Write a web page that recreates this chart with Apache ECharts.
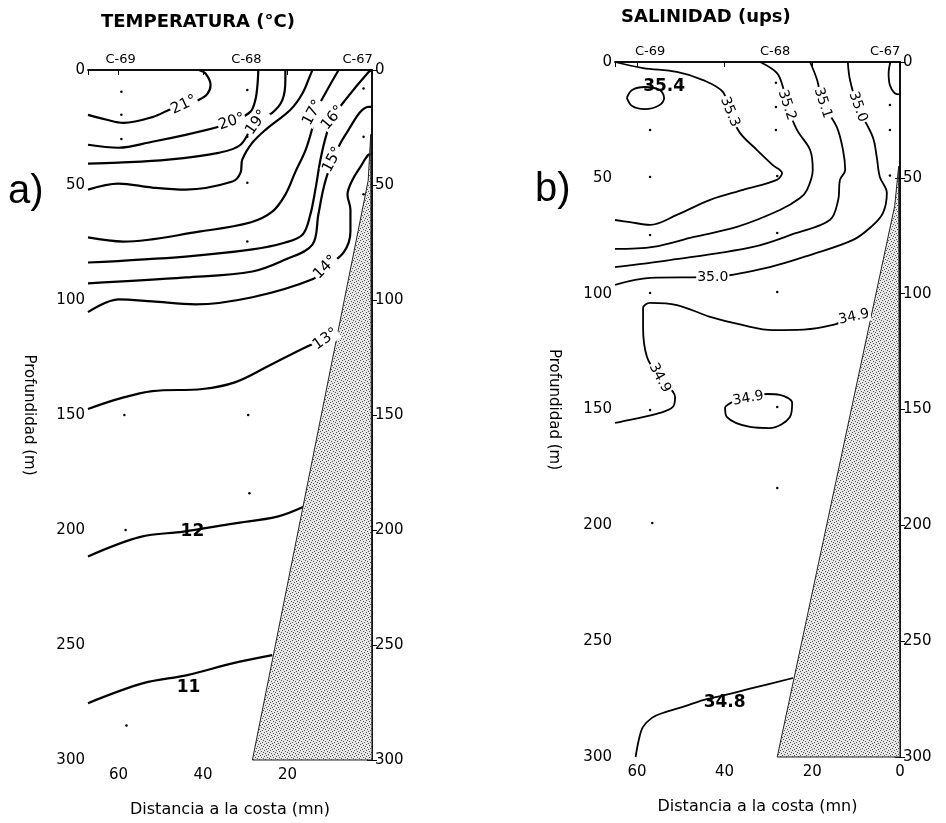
<!DOCTYPE html>
<html>
<head>
<meta charset="utf-8">
<script src="https://cdn.jsdelivr.net/npm/echarts@6/dist/echarts.min.js"></script>
<style>
  html, body { margin: 0; padding: 0; background: #fff; }
  #chart { width: 946px; height: 823px; }
</style>
</head>
<body>
<div id="chart"></div>
<script>
// --- data: [distancia a la costa (mn), profundidad (m)] ---
const depthTicks = [0, 50, 100, 150, 200, 250, 300]
const distTicks = [0, 20, 40, 60]
const stationNames = ['C-69', 'C-68', 'C-67']
const stationDistA = [59.5, 29.7, 3.4]
const stationDistB = [57, 28.5, 3.4]

// temperatura
const t21 = [[67.2,19.5],[63,21.5],[58.8,23],[52,20.5],[47,16.5],[44,15],[41,13],[39,10.5],[38.2,6.5],[39.4,1.5],[41,0]]
const t20 = [[67.2,32.5],[60,33.8],[52,31.2],[44.1,28.2],[36.3,24.7],[33,22.5],[28.8,18.2],[27.6,13],[27.1,6.5],[26.9,0]]
const t19 = [[67.2,40.7],[60,40.3],[48.2,39],[36.3,36],[31.1,32.5],[27.6,22.5],[23.6,18.6],[21.2,13],[20.5,4.3],[20.5,0]]
const t18 = [[67.2,52],[60,49.4],[52,51.1],[44.1,52],[33,48.5],[31.1,44.6],[30.7,39],[28.3,31.6],[25.2,26],[19.3,17.3],[16.4,10],[14.6,2.2],[14.1,0]]
const t17 = [[67.2,72.8],[58.8,74.6],[40.6,70.2],[28.8,66.3],[23.6,61.6],[20.5,54.2],[18.1,44.2],[15.7,34.7],[14.1,25.1],[13.4,18.6],[11,10],[7.9,0]]
const t16 = [[67.2,83.7],[44.1,81.1],[28.3,78],[20.5,75],[16.4,71.5],[14.6,62.9],[13.4,52],[12.2,39],[10.8,28.2],[9.3,20.8],[6.3,13],[0.8,0.9],[0,0]]
const t15 = [[67.2,92.8],[44.1,90.2],[28.3,87.6],[20.5,82.4],[14.1,75.9],[12.7,62.9],[11.7,53.3],[10.8,46.8],[9.3,39],[6.3,28.2],[0.8,16],[0,16]]
const t14 = [[67.2,105.3],[60,99.7],[52,100.6],[41.8,101.9],[28.3,98.8],[14.1,91],[11,85.8],[6.7,79.3],[5.1,70.2],[5.1,60.7],[5.8,54.2],[4.6,47.7],[2.7,42],[0.8,36.8],[0,36.5]]
const t13 = [[67.2,147.4],[60,143],[52,139.6],[40.1,138.7],[32.3,135.7],[24.5,128.7],[15.7,120.5],[11,117]]
const t12 = [[67.2,211.5],[54.8,203],[44.6,200.7],[32.8,197.2],[22.4,194.2],[16.2,189.9]]
const t11 = [[67.2,275.3],[54.1,266.6],[43.7,263.1],[32.8,257.9],[23.6,254.4]]
const tempLines = [t21, t20, t19, t18, t17, t16, t15, t14, t13, t12, t11]
const tempLabels = [['21°',44.5,15.2],['20°',33.2,22.5],['19°',27.3,22.8],['17°',14.0,18.6],['16°',9.3,20.8],['15°',9.3,39],['14°',11,85.8],['13°',11,117]]
const tempBigLabels = [['12',42.5,200.7],['11',43.4,268.5]]
const shelfA = [[0.3,28],[0.9,48],[28.3,300],[0,300]]
const dotsA = [[59.3,9.5],[59.3,19.5],[59.3,30],[58.6,150],[58.3,200],[58.1,285],[29.5,8.7],[29.5,29],[29.5,49],[29.5,74.6],[29.3,150],[29,184],[2,8],[2,29],[2,54]]

// salinidad
const s354 = [[62.3,15.5],[61.1,12.1],[58.2,10.8],[54.8,12.1],[53.8,15.5],[55.2,19],[58.2,20.3],[61.1,19],[62.3,15.5]]
const s353 = [[65,0],[58.6,2.6],[50.9,4.3],[44.9,7.8],[40.4,12.9],[38.8,21.6],[36.5,30.6],[32.6,38],[29,44.5],[26.9,47.9],[28.1,50.9],[35.8,55.2],[43.3,59.5],[50.9,66],[57,70.3],[61.6,69.1],[65,68.2]]
const s352 = [[31.9,0],[28.1,4.7],[26.7,10.8],[25.8,18.6],[23.5,29.3],[20.5,38],[19.9,46.6],[21.2,55.2],[22.8,58.7],[27.4,63.9],[37.2,71.2],[47,75.5],[56.3,79.8],[65,80.7]]
const s351 = [[20.5,0],[18.9,7.8],[17.6,17.7],[14.4,28.1],[13,38],[12.5,46.6],[13.7,50.9],[14.1,59.6],[16,68.2],[24,74],[33.5,79.8],[52.5,85.5],[65,88.5]]
const s350 = [[11.9,0],[11.4,7.8],[9.6,19.4],[6.2,32.4],[5.3,41],[4.6,49.6],[3,56.5],[3.9,65.2],[6.5,71],[10.7,76.8],[20,83],[29.7,88.5],[42.7,92.8],[57,93.2],[65,96.2]]
const s350b = [[2.2,0],[2.6,5],[2.3,10],[1.2,13.5],[0,14]]
const s349 = [[7,107.5],[11.4,110.5],[15.3,113.5],[22,115.5],[29,115.7],[36,113.5],[43.3,110],[50.9,104.9],[57,104],[58.6,106.2],[58.6,114.4],[57.7,127.3],[54.8,136.4],[51.3,144.6],[51.8,148.9],[54.8,151.5],[61.6,154.5],[65,155.8]]
const s349b = [[39.9,148.9],[39.5,153.2],[34.2,157.5],[29.7,158],[25.1,153.2],[24.6,147.2],[27.4,143.7],[30.3,143.3],[34.9,145],[38.5,147],[39.9,148.9]]
const s348 = [[60.3,300],[59.5,292],[58.6,287],[56.5,283],[54.1,281],[49,278],[44.9,275.4],[40.4,273.5],[33.5,270.2],[24.4,265.9]]
const salLines = [s354, s353, s352, s351, s350, s350b, s349, s349b, s348]
const salLabels = [['35.3',38.8,21.6],['35.2',25.8,18.6],['35.1',17.6,17.7],['35.0',9.6,19.4],['35.0',42.7,92.8],['34.9',10.5,110],['34.9',54.8,136.4],['34.9',34.6,145.2]]
const salBigLabels = [['35.4',53.8,10.5],['34.8',40,276.5]]
const shelfB = [[0.3,45],[1.2,62],[28,300],[0,300]]
const dotsB = [[57,29.3],[57,49.6],[57,74.7],[57,99.7],[57,150.2],[56.5,199],[28.3,9],[28.3,19.4],[28.3,29.3],[28,49.2],[28,73.8],[28,99.3],[28,148.9],[28,183.9],[2.3,18.6],[2.3,29.3],[2.3,49]]

// label rotations (degrees)
const tempRot = [25, 18, 55, 62, 50, 62, 45, 35]
const salRot = [-68, -72, -72, -70, 0, 12, -62, 10]

const font = 'DejaVu Sans'

// stipple fill for the bottom
const stip = document.createElement('canvas')
stip.width = 6; stip.height = 6
const sc = stip.getContext('2d')
sc.fillStyle = '#e6e6e6'; sc.fillRect(0, 0, 6, 6)
sc.fillStyle = '#555'
;[[0,0],[3,1],[5,2],[1,3],[4,4],[2,5]].forEach(p => sc.fillRect(p[0], p[1], 1, 1))

function xAxes(grid, max, showZero) {
  return [
    {
      gridIndex: grid, type: 'value', min: 0, max: max, inverse: true, interval: 20, position: 'bottom',
      name: 'Distancia a la costa (mn)', nameLocation: 'middle', nameGap: 42,
      nameTextStyle: { fontFamily: font, fontSize: 16, color: '#000' },
      axisLine: { lineStyle: { color: '#000', width: 1.5 } },
      axisTick: { show: true, length: 5, lineStyle: { color: '#000' } },
      axisLabel: {
        fontFamily: font, fontSize: 15, color: '#000', margin: 8,
        formatter: v => (distTicks.indexOf(v) >= 0 && (showZero || v !== 0)) ? String(v) : ''
      },
      splitLine: { show: false }
    },
    {
      gridIndex: grid, type: 'value', min: 0, max: max, inverse: true, position: 'top',
      axisLine: { lineStyle: { color: '#000', width: 1.5 } },
      axisTick: { show: false }, axisLabel: { show: false }, splitLine: { show: false }
    }
  ]
}

function yAxes(grid, gap) {
  const common = {
    gridIndex: grid, type: 'value', min: 0, max: 300, interval: 50, inverse: true,
    axisLine: { show: true, lineStyle: { color: '#000', width: 1.5 } },
    axisTick: { show: true, length: 5, lineStyle: { color: '#000' } },
    axisLabel: {
      fontFamily: font, fontSize: 15, color: '#000', margin: 3,
      formatter: v => depthTicks.indexOf(v) >= 0 ? String(v) : ''
    },
    splitLine: { show: false }
  }
  return [
    Object.assign({}, common, {
      position: 'left', name: 'Profundidad (m)', nameLocation: 'middle', nameRotate: -90, nameGap: gap,
      nameTextStyle: { fontFamily: font, fontSize: 15, color: '#000' }
    }),
    Object.assign({}, common, { position: 'right' })
  ]
}

function contourSeries(lines, xi, yi, w) {
  return lines.map(d => ({
    type: 'line', xAxisIndex: xi, yAxisIndex: yi, data: d, symbol: 'none', smooth: 0.35,
    silent: true, z: 3, lineStyle: { color: '#000', width: w }
  }))
}

function labelSeries(labels, rots, xi, yi, size, bold, bg) {
  return {
    type: 'scatter', xAxisIndex: xi, yAxisIndex: yi, symbolSize: 0, silent: true, z: 6,
    itemStyle: { opacity: 1 },
    data: labels.map((l, i) => ({
      value: [l[1], l[2]],
      label: {
        show: true, position: 'inside', formatter: l[0], rotate: rots ? rots[i] : 0,
        fontFamily: font, fontSize: size, fontWeight: bold ? 'bold' : 'normal', color: '#000',
        backgroundColor: bg ? '#fff' : 'transparent', padding: [0, 1]
      }
    }))
  }
}

function stationSeries(dists, xi, yi) {
  return {
    type: 'scatter', xAxisIndex: xi, yAxisIndex: yi, symbolSize: 0, silent: true, z: 6,
    itemStyle: { opacity: 1 },
    data: dists.map((d, i) => ({ value: [d, 0], name: stationNames[i] })),
    label: { show: true, position: 'top', distance: 4, formatter: '{b}', fontFamily: font, fontSize: 13, color: '#000' }
  }
}

function dotSeries(dots, xi, yi) {
  return {
    type: 'scatter', xAxisIndex: xi, yAxisIndex: yi, data: dots, symbol: 'circle', symbolSize: 2.5,
    silent: true, z: 2, itemStyle: { color: '#000', opacity: 1 }
  }
}

function shelfSeries(pts, xi, yi) {
  return {
    type: 'custom', xAxisIndex: xi, yAxisIndex: yi, data: pts, silent: true, z: 4,
    renderItem: (params, api) => {
      if (params.dataIndex !== 0) return
      return {
        type: 'polygon',
        shape: { points: pts.map(p => api.coord(p)) },
        style: { fill: { image: stip, repeat: 'repeat' }, stroke: '#222', lineWidth: 1 }
      }
    }
  }
}

const chart = echarts.init(document.getElementById('chart'))
chart.setOption({
  animation: false,
  backgroundColor: '#fff',
  title: [
    { text: 'TEMPERATURA (°C)', left: 96, top: 8, textStyle: { fontFamily: font, fontWeight: 'bold', fontSize: 18, color: '#000' } },
    { text: 'SALINIDAD (ups)', left: 616, top: 3, textStyle: { fontFamily: font, fontWeight: 'bold', fontSize: 18, color: '#000' } }
  ],
  graphic: [
    { type: 'text', left: 8, top: 172, style: { text: 'a)', font: '40px "Liberation Sans"', fill: '#000' } },
    { type: 'text', left: 535, top: 170, style: { text: 'b)', font: '40px "Liberation Sans"', fill: '#000' } }
  ],
  grid: [
    { left: 88, top: 70, width: 284, height: 692 },
    { left: 615, top: 62, width: 285, height: 695 }
  ],
  xAxis: [...xAxes(0, 67.2, false), ...xAxes(1, 65, true)],
  yAxis: [...yAxes(0, 52), ...yAxes(1, 54)],
  series: [
    shelfSeries(shelfA, 0, 0),
    dotSeries(dotsA, 0, 0),
    ...contourSeries(tempLines, 0, 0, 2.2),
    labelSeries(tempLabels, tempRot, 0, 0, 15, false, true),
    labelSeries(tempBigLabels, null, 0, 0, 17, true, false),
    stationSeries(stationDistA, 1, 0),
    shelfSeries(shelfB, 2, 2),
    dotSeries(dotsB, 2, 2),
    ...contourSeries(salLines, 2, 2, 1.8),
    labelSeries(salLabels, salRot, 2, 2, 14, false, true),
    labelSeries(salBigLabels, null, 2, 2, 17, true, false),
    stationSeries(stationDistB, 3, 2)
  ]
})
</script>
</body>
</html>
